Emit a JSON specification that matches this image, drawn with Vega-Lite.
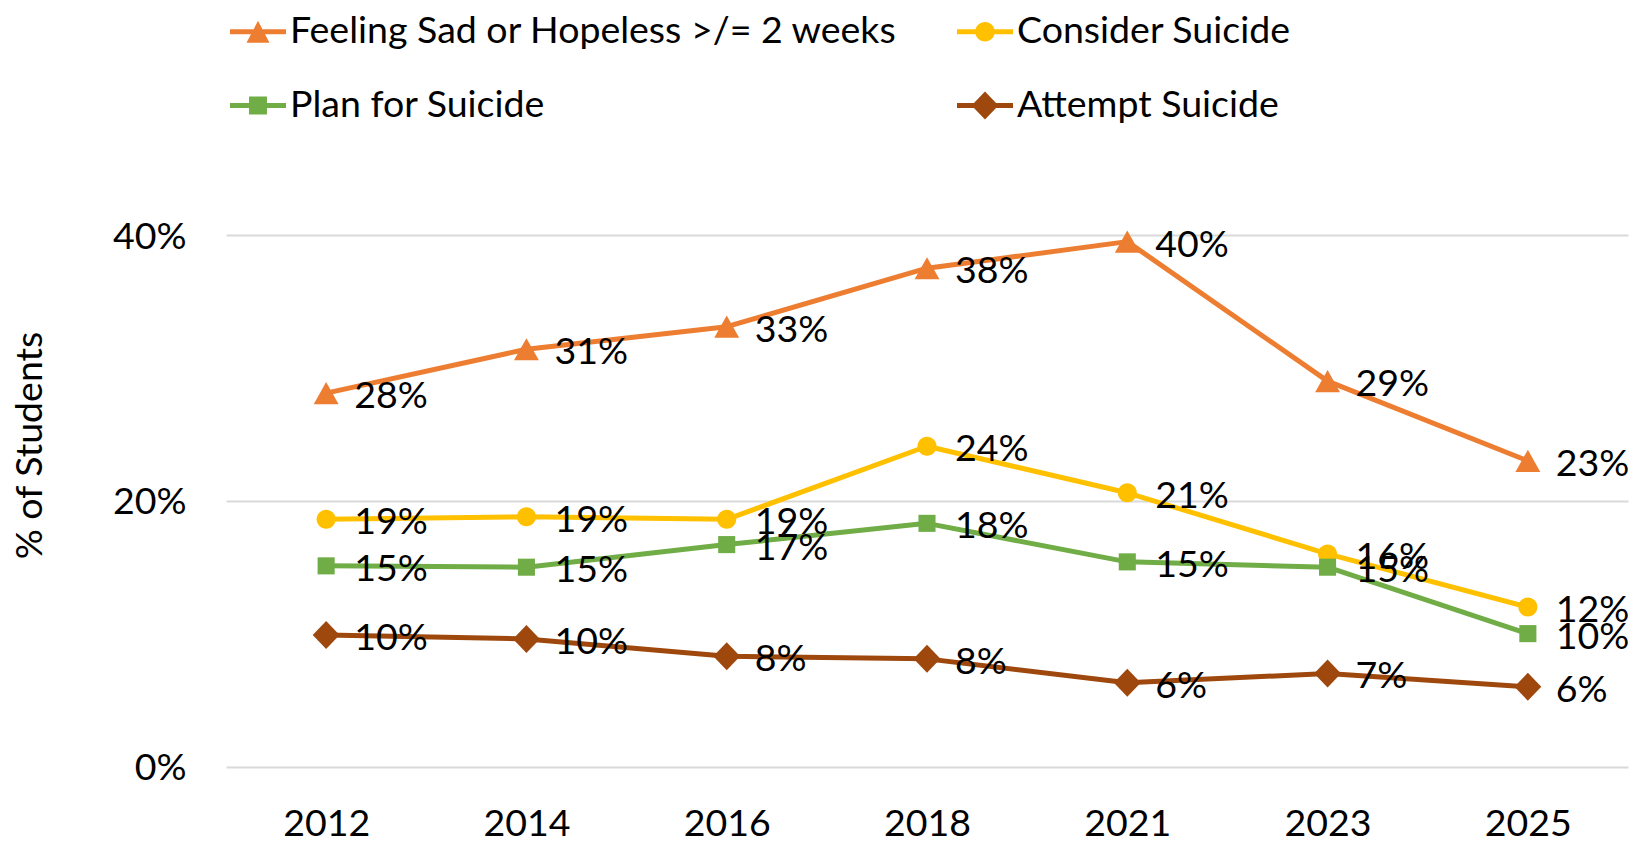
{
  "$schema": "https://vega.github.io/schema/vega-lite/v6.json",
  "width": 1402,
  "height": 531.5,
  "autosize": "none",
  "padding": {"left": 226, "top": 235, "right": 5, "bottom": 80},
  "background": "#ffffff",
  "config": {
    "font": "Lato",
    "view": {"stroke": null}
  },
  "data": {
    "values": [
      {"year": "2012", "series": "Feeling Sad or Hopeless >/= 2 weeks", "value": 0.281, "label": "28%"},
      {"year": "2014", "series": "Feeling Sad or Hopeless >/= 2 weeks", "value": 0.314, "label": "31%"},
      {"year": "2016", "series": "Feeling Sad or Hopeless >/= 2 weeks", "value": 0.331, "label": "33%"},
      {"year": "2018", "series": "Feeling Sad or Hopeless >/= 2 weeks", "value": 0.375, "label": "38%"},
      {"year": "2021", "series": "Feeling Sad or Hopeless >/= 2 weeks", "value": 0.395, "label": "40%"},
      {"year": "2023", "series": "Feeling Sad or Hopeless >/= 2 weeks", "value": 0.290, "label": "29%"},
      {"year": "2025", "series": "Feeling Sad or Hopeless >/= 2 weeks", "value": 0.230, "label": "23%"},
      {"year": "2012", "series": "Consider Suicide", "value": 0.186, "label": "19%"},
      {"year": "2014", "series": "Consider Suicide", "value": 0.188, "label": "19%"},
      {"year": "2016", "series": "Consider Suicide", "value": 0.186, "label": "19%"},
      {"year": "2018", "series": "Consider Suicide", "value": 0.241, "label": "24%"},
      {"year": "2021", "series": "Consider Suicide", "value": 0.206, "label": "21%"},
      {"year": "2023", "series": "Consider Suicide", "value": 0.160, "label": "16%"},
      {"year": "2025", "series": "Consider Suicide", "value": 0.120, "label": "12%"},
      {"year": "2012", "series": "Plan for Suicide", "value": 0.151, "label": "15%"},
      {"year": "2014", "series": "Plan for Suicide", "value": 0.150, "label": "15%"},
      {"year": "2016", "series": "Plan for Suicide", "value": 0.167, "label": "17%"},
      {"year": "2018", "series": "Plan for Suicide", "value": 0.183, "label": "18%"},
      {"year": "2021", "series": "Plan for Suicide", "value": 0.154, "label": "15%"},
      {"year": "2023", "series": "Plan for Suicide", "value": 0.150, "label": "15%"},
      {"year": "2025", "series": "Plan for Suicide", "value": 0.100, "label": "10%"},
      {"year": "2012", "series": "Attempt Suicide", "value": 0.099, "label": "10%"},
      {"year": "2014", "series": "Attempt Suicide", "value": 0.096, "label": "10%"},
      {"year": "2016", "series": "Attempt Suicide", "value": 0.083, "label": "8%"},
      {"year": "2018", "series": "Attempt Suicide", "value": 0.081, "label": "8%"},
      {"year": "2021", "series": "Attempt Suicide", "value": 0.063, "label": "6%"},
      {"year": "2023", "series": "Attempt Suicide", "value": 0.070, "label": "7%"},
      {"year": "2025", "series": "Attempt Suicide", "value": 0.060, "label": "6%"}
    ]
  },
  "encoding": {
    "x": {
      "field": "year",
      "type": "ordinal",
      "sort": ["2012", "2014", "2016", "2018", "2021", "2023", "2025"],
      "scale": {"type": "point", "padding": 0.5},
      "axis": {
        "title": null,
        "labelAngle": 0,
        "domain": false,
        "ticks": false,
        "grid": false,
        "labelFont": "Lato",
        "labelFontSize": 37.5,
        "labelColor": "#000000",
        "labelPadding": 39
      }
    },
    "y": {
      "field": "value",
      "type": "quantitative",
      "scale": {"domain": [0, 0.4], "nice": false},
      "axis": {
        "values": [0, 0.2, 0.4],
        "format": ".0%",
        "title": "% of Students",
        "titleFont": "Lato",
        "titleFontSize": 37.5,
        "titleFontWeight": "normal",
        "titleColor": "#000000",
        "titleAngle": -90,
        "titleAlign": "center",
        "titleBaseline": "middle",
        "titleX": -196,
        "titleY": 210,
        "grid": true,
        "gridColor": "#D9D9D9",
        "gridWidth": 2,
        "domain": false,
        "ticks": false,
        "labelFont": "Lato",
        "labelFontSize": 37.5,
        "labelColor": "#000000",
        "labelPadding": 40,
        "labelOffset": 2
      }
    }
  },
  "layer": [
    {
      "transform": [{"filter": "false"}],
      "mark": {"type": "point", "filled": true, "size": 3136},
      "encoding": {
        "color": {
          "field": "series",
          "type": "nominal",
          "scale": {
            "domain": ["Feeling Sad or Hopeless >/= 2 weeks", "Consider Suicide", "Plan for Suicide", "Attempt Suicide"],
            "range": ["#ED7D31", "#FFC000", "#70AD47", "#9E480E"]
          },
          "legend": {
            "orient": "none",
            "legendX": 4,
            "legendY": -231.5,
            "columns": 2,
            "direction": "horizontal",
            "title": null,
            "padding": 0,
            "labelFont": "Lato",
            "labelFontSize": 37.5,
            "labelColor": "#000000",
            "labelLimit": 2000,
            "labelOffset": 4,
            "symbolType": "circle",
            "symbolSize": 3136,
            "symbolStrokeWidth": 0,
            "symbolOpacity": 1,
            "rowPadding": 27,
            "columnPadding": 59
          }
        },
        "shape": {
          "field": "series",
          "type": "nominal",
          "scale": {
            "domain": ["Feeling Sad or Hopeless >/= 2 weeks", "Consider Suicide", "Plan for Suicide", "Attempt Suicide"],
            "range": [
              "M-1,-0.09H1V0.09H-1ZM0,-0.39L0.41,0.39L-0.41,0.39Z",
              "M-1,-0.09H1V0.09H-1ZM0.35,0A0.35,0.35,0,1,1,-0.35,0A0.35,0.35,0,1,1,0.35,0Z",
              "M-1,-0.09H1V0.09H-1ZM-0.32,-0.32H0.32V0.32H-0.32Z",
              "M-1,-0.09H1V0.09H-1ZM0,-0.5L0.48,0L0,0.5L-0.48,0Z"
            ]
          },
          "legend": {
            "orient": "none",
            "legendX": 4,
            "legendY": -231.5,
            "columns": 2,
            "direction": "horizontal",
            "title": null,
            "padding": 0,
            "labelFont": "Lato",
            "labelFontSize": 37.5,
            "labelColor": "#000000",
            "labelLimit": 2000,
            "labelOffset": 4,
            "symbolType": "circle",
            "symbolSize": 3136,
            "symbolStrokeWidth": 0,
            "symbolOpacity": 1,
            "rowPadding": 27,
            "columnPadding": 59
          }
        }
      }
    },
    {
      "mark": {"type": "line", "strokeWidth": 5, "strokeCap": "round", "strokeJoin": "round"},
      "encoding": {
        "color": {"field": "series", "type": "nominal"}
      }
    },
    {
      "transform": [{"filter": "datum.series === 'Feeling Sad or Hopeless >/= 2 weeks'"}],
      "mark": {"type": "point", "filled": true, "opacity": 1, "size": 784, "strokeWidth": 0, "shape": "M0,-0.79L0.89,0.79L-0.89,0.79Z"},
      "encoding": {"color": {"field": "series", "type": "nominal"}}
    },
    {
      "transform": [{"filter": "datum.series === 'Consider Suicide'"}],
      "mark": {"type": "point", "filled": true, "opacity": 1, "size": 784, "strokeWidth": 0, "shape": "M0.68,0A0.68,0.68,0,1,1,-0.68,0A0.68,0.68,0,1,1,0.68,0Z"},
      "encoding": {"color": {"field": "series", "type": "nominal"}}
    },
    {
      "transform": [{"filter": "datum.series === 'Plan for Suicide'"}],
      "mark": {"type": "point", "filled": true, "opacity": 1, "size": 784, "strokeWidth": 0, "shape": "M-0.61,-0.61H0.61V0.61H-0.61Z"},
      "encoding": {"color": {"field": "series", "type": "nominal"}}
    },
    {
      "transform": [{"filter": "datum.series === 'Attempt Suicide'"}],
      "mark": {"type": "point", "filled": true, "opacity": 1, "size": 784, "strokeWidth": 0, "shape": "M0,-1L0.96,0L0,1L-0.96,0Z"},
      "encoding": {"color": {"field": "series", "type": "nominal"}}
    },
    {
      "mark": {"type": "text", "align": "left", "baseline": "middle", "dx": 28, "dy": 4, "fontSize": 37.5, "font": "Lato", "color": "#000000"},
      "encoding": {
        "text": {"field": "label", "type": "nominal"}
      }
    }
  ]
}
